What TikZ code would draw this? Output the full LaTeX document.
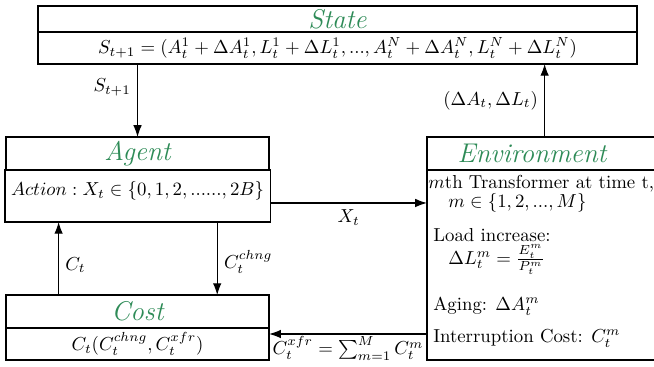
\documentclass[tikz,border=0pt]{standalone}
\usepackage{amsmath,amssymb}
\usetikzlibrary{arrows.meta,positioning,calc}
\definecolor{mdpgreen}{HTML}{2E8B57}

\begin{document}
\begin{tikzpicture}[
      title/.style={draw,thick,outer sep=0pt,inner ysep=1pt,minimum height=0.617cm,font=\Large\itshape,text=mdpgreen},
      body/.style={draw,thick,outer sep=0pt,inner ysep=1pt,align=center},
      arr/.style={-{Latex[length=2.2mm,width=1.6mm]},semithick}]
    \useasboundingbox (0,0) rectangle (12.23,-6.863);
    % state
    \node[title,anchor=north west,minimum width=11.2cm,minimum height=0.486cm] (state) at (0.711,-0.112) {State};
    \node[body,minimum width=11.2cm,minimum height=0.598cm,below=0pt of state] (statebody)
      {$S_{t+1} = (A_t^1 + \Delta A_t^1, L_t^1 + \Delta L_t^1, ..., A_t^N + \Delta A_t^N, L_t^N + \Delta L_t^N)$};
    % agent
    \node[title,anchor=north west,minimum width=4.92cm] (agent) at (0.112,-2.562) {Agent};
    \node[body,minimum width=4.92cm,minimum height=0.972cm,text height=7.5pt,text depth=7.5pt,below=0pt of agent] (agentbody)
      {$Action : X_t \in \{0,1,2,......,2B\}$};
    % cost
    \node[title,anchor=north west,minimum width=4.92cm] (cost) at (0.112,-5.517) {Cost};
    \node[body,minimum width=4.92cm,minimum height=0.598cm,below=0pt of cost] (costbody)
      {$C_t(C_t^{chng}, C_t^{xfr})$};
    % environment (runs past the right edge)
    \node[title,anchor=north west,minimum width=4.7cm] (env) at (7.985,-2.562) {Environment\hspace*{0.77cm}};
    \node[body,minimum width=4.7cm,minimum height=3.553cm,below=0pt of env] (envbody) {};
    \node[anchor=north west,align=left,inner sep=0pt] (envtext) at ($(envbody.north west)+(0.112,-0.10)$)
      {\hspace*{-2.6pt}$m$th Transformer at time t,\\[-2pt]
       \hspace*{8pt}$m \in \{1,2,...,M\}$\\[6pt]
       Load increase:\\
       \hspace*{8pt}$\Delta L_t^m = \frac{E_t^m}{P_t^m}$\\[11pt]
       Aging: $\Delta A_t^m$\\[5pt]
       Interruption Cost: $C_t^m$};
    % connectors
    \coordinate (xt) at ($(agentbody.east)+(0,-0.131)$);
    \coordinate (cx) at ($(costbody.north east)+(0,-0.112)$);
    \coordinate (ct) at ($(cost.north west)!0.2!(cost.north east)$);
    \coordinate (cc) at ($(agentbody.south west)!0.8!(agentbody.south east)$);
    \coordinate (da) at ($(env.north west)+(2.2,0)$);
    \draw[arr] (statebody.south -| agent.north) -- node[left,pos=0.32] {$S_{t+1}$} (agent.north);
    \draw[arr] (da) -- node[left] {$(\Delta A_t, \Delta L_t)$} (da |- statebody.south);
    \draw[arr] (xt) -- node[below] {$X_t$} (xt -| envbody.west);
    \draw[arr] (ct) -- node[right,pos=0.41] {$C_t$} (ct |- agentbody.south);
    \draw[arr] (cc) -- node[right,pos=0.55] {$C_t^{chng}$} (cc |- cost.north);
    \draw[arr] (cx -| envbody.west) -- node[below,inner sep=1pt] {$C_t^{xfr} = \sum_{m=1}^M C_t^m$} (cx);
  \end{tikzpicture}
\end{document}
